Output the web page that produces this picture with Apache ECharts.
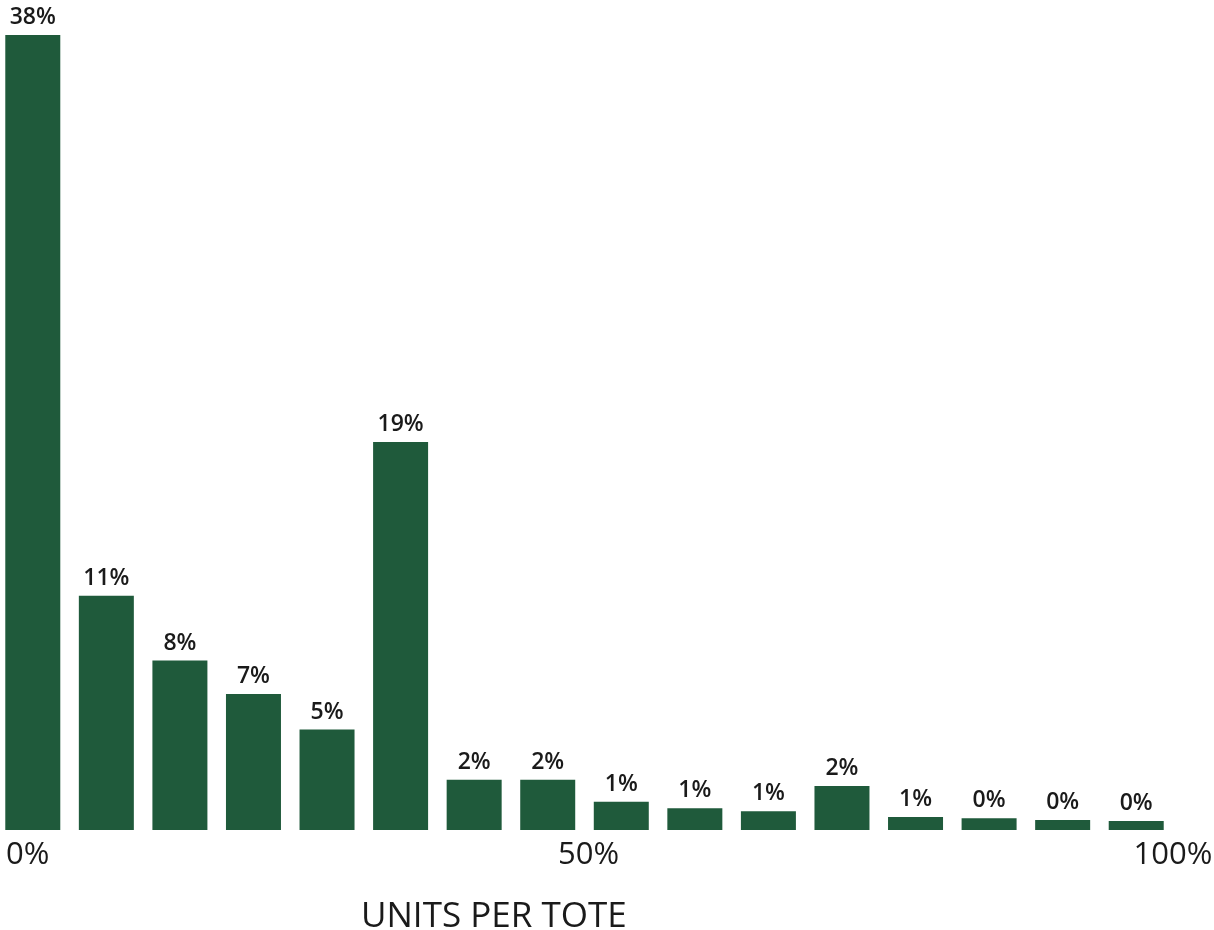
<!DOCTYPE html>
<html>
<head>
<meta charset="utf-8">
<script src="https://cdn.jsdelivr.net/npm/echarts@6/dist/echarts.min.js"></script>
<style>
  html, body { margin: 0; padding: 0; background: #ffffff; overflow: hidden; }
  #chart { width: 1222px; height: 930px; margin-left: -4px; }
</style>
</head>
<body>
<div id="chart"></div>
<script>
// Data
const categories = ['b1','b2','b3','b4','b5','b6','b7','b8','b9','b10','b11','b12','b13','b14','b15','b16'];
const values = [38, 11.2, 8.1, 6.5, 4.8, 18.55, 2.4, 2.4, 1.35, 1.04, 0.9, 2.1, 0.62, 0.56, 0.48, 0.43];
const valueLabels = ['38%','11%','8%','7%','5%','19%','2%','2%','1%','1%','1%','2%','1%','0%','0%','0%'];
const axisTicks = [0, 50, 100];
const axisTitle = 'UNITS PER TOTE';

const FONT = '"Open Sans", "Noto Sans", sans-serif';
const chart = echarts.init(document.getElementById('chart'), null, { renderer: 'canvas' });

chart.setOption({
  backgroundColor: '#ffffff',
  animation: false,
  title: {
    text: axisTitle,
    left: 365,
    top: 900,
    padding: 0,
    textStyle: { fontFamily: FONT, fontSize: 35, fontWeight: 'normal', color: '#1a1a1a' }
  },
  grid: { left: 0, right: 45, top: 35, bottom: 100, containLabel: false },
  xAxis: [
    {
      type: 'category',
      data: categories,
      axisLine: { show: false },
      axisTick: { show: false },
      axisLabel: { show: false },
      splitLine: { show: false }
    },
    {
      type: 'value',
      position: 'bottom',
      min: 0,
      max: 100,
      interval: 50,
      axisLine: { show: false },
      axisTick: { show: false },
      splitLine: { show: false },
      axisLabel: {
        show: true,
        margin: 10,
        fontFamily: FONT,
        fontSize: 31,
        color: '#1a1a1a',
        alignMinLabel: 'left',
        formatter: function (v) {
          if (axisTicks.indexOf(v) < 0) return '';
          if (v === 0) return '{first|' + v + '%}';
          if (v === 50) return '{mid|' + v + '%}';
          return v + '%';
        },
        rich: {
          first: { padding: [0, 0, 0, 10], fontFamily: FONT, fontSize: 31, color: '#1a1a1a' },
          mid: { padding: [0, 0, 0, 8], fontFamily: FONT, fontSize: 31, color: '#1a1a1a' }
        }
      }
    }
  ],
  yAxis: {
    type: 'value',
    min: 0,
    max: 38,
    show: false,
    splitLine: { show: false }
  },
  series: [{
    type: 'bar',
    xAxisIndex: 0,
    data: values,
    barWidth: 55,
    itemStyle: { color: '#1f5a3b' },
    label: {
      show: true,
      position: 'top',
      distance: 6,
      fontFamily: FONT,
      fontSize: 23,
      fontWeight: 600,
      color: '#1a1a1a',
      formatter: function (p) { return valueLabels[p.dataIndex]; }
    }
  }]
});
</script>
</body>
</html>
